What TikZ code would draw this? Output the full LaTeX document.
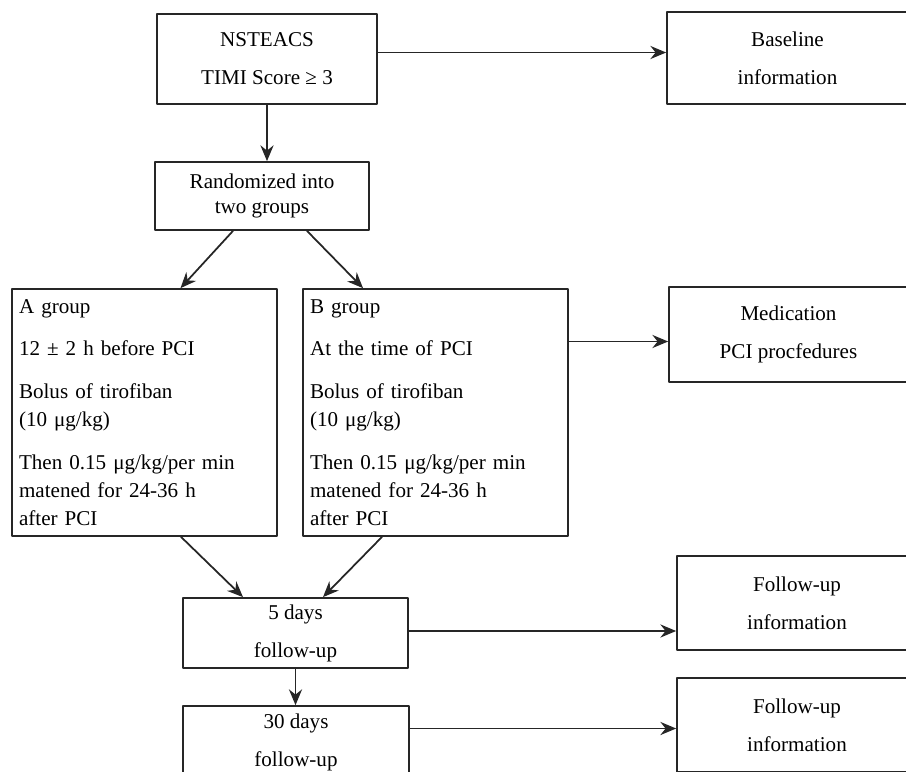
\documentclass[tikz,border=0pt]{standalone}
\usepackage{fontspec}
\setmainfont{Liberation Serif}
\usetikzlibrary{arrows.meta}
\tikzset{
  box/.style={draw=black!85,line width=1pt,align=center,inner sep=0pt,
    font=\fontsize{12}{15.9}\selectfont},
  grpbox/.style={box,align=left,text width=5.02cm,minimum width=5.3cm,
    minimum height=4.94cm},
  link/.style={->,draw=black!85,line width=1pt}
}

\begin{document}
\begin{tikzpicture}[line cap=round,line join=round,>={Stealth[length=9pt,width=7.5pt,inset=3pt]},x=0.02cm,y=-0.02cm]
  \useasboundingbox (0,0) rectangle (906,771);
  \clip (0,0) rectangle (906,771);
  % main column
  \node[box,minimum width=4.4cm,minimum height=1.8cm] (nst) at (267,59) {NSTEACS\\[0.2cm] TIMI Score ≥ 3};
  \node[box,minimum width=4.28cm,minimum height=1.36cm] (rand) at (262,196) {Randomized into\\[-0.06cm] two groups};
  \node[grpbox] (agrp) at (144.5,412.5) {A group\\[0.3cm] 12 ± 2 h before PCI\\[0.3cm] Bolus of tirofiban\\ (10 μg/kg)\\[0.3cm] Then 0.15 μg/kg/per min\\ matened for 24-36 h\\ after PCI};
  \node[grpbox] (bgrp) at (435.5,412.5) {B group\\[0.3cm] At the time of PCI\\[0.3cm] Bolus of tirofiban\\ (10 μg/kg)\\[0.3cm] Then 0.15 μg/kg/per min\\ matened for 24-36 h\\ after PCI};
  \node[box,minimum width=4.5cm,minimum height=1.4cm] (d5) at (295.5,633) {5 days\\[0.2cm] follow-up};
  \node[box,minimum width=4.52cm,minimum height=1.44cm] (d30) at (296,742) {30 days\\[0.2cm] follow-up};
  % right column
  \node[box,minimum width=4.82cm,minimum height=1.84cm] (base) at (787.5,58) {Baseline\\[0.2cm] information};
  \node[box,minimum width=4.78cm,minimum height=1.9cm] (med) at (788.5,334.5) {Medication\\[0.2cm] PCI procfedures};
  \node[box,minimum width=4.8cm,minimum height=1.88cm] (fu1) at (797,603) {Follow-up\\[0.2cm] information};
  \node[box,minimum width=4.8cm,minimum height=1.88cm] (fu2) at (797,725) {Follow-up\\[0.2cm] information};
  \coordinate (basein) at ([yshift=0.11cm]base.west);
  \coordinate (medin) at ([yshift=-0.14cm]med.west);
  \coordinate (fu1in) at ([yshift=-0.56cm]fu1.west);
  \coordinate (fu2in) at ([yshift=-0.07cm]fu2.west);
  % connectors
  \draw[link] (nst.south) -- (nst.south |- rand.north);
  \draw[link] (basein -| nst.east) -- (basein);
  \draw[link] ([xshift=-0.58cm]rand.south) -- ([xshift=0.72cm]agrp.north);
  \draw[link] ([xshift=0.9cm]rand.south) -- ([xshift=-1.45cm]bgrp.north);
  \draw[link] (medin -| bgrp.east) -- (medin);
  \draw[link] ([xshift=0.73cm]agrp.south) -- ([xshift=-1.05cm]d5.north);
  \draw[link] ([xshift=-1.07cm]bgrp.south) -- ([xshift=0.55cm]d5.north);
  \draw[link] (fu1in -| d5.east) -- (fu1in);
  \draw[link] (d5.south) -- (d5.south |- d30.north);
  \draw[link] (fu2in -| d30.east) -- (fu2in);
\end{tikzpicture}
\end{document}
